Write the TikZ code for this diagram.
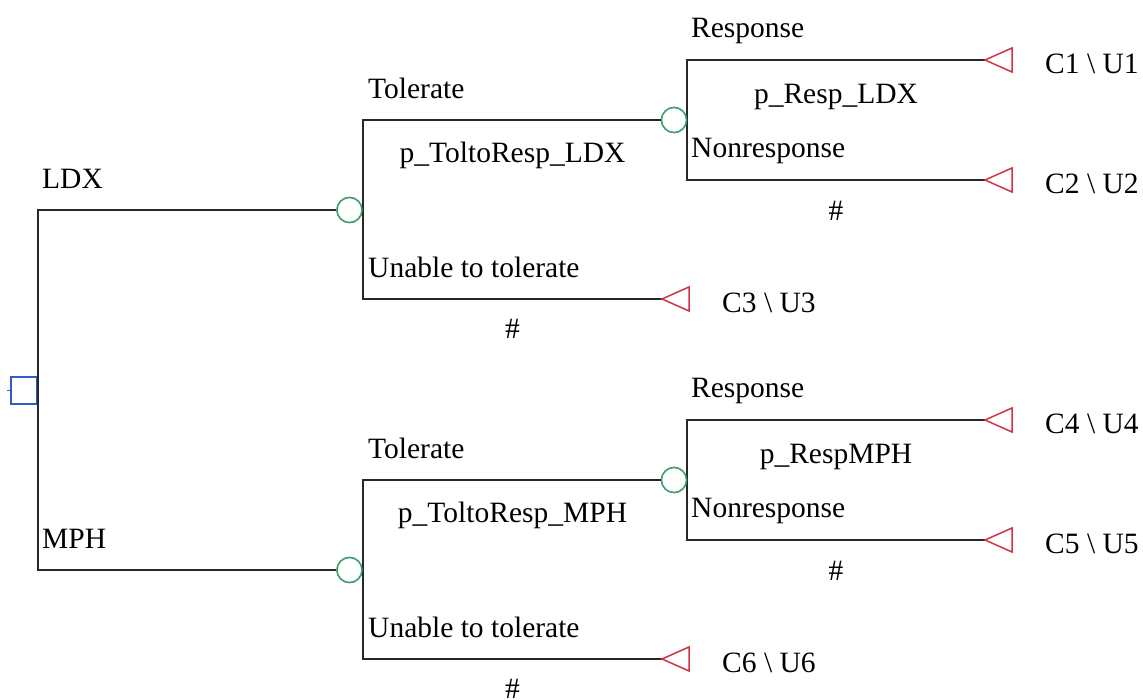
\documentclass[tikz,border=0pt]{standalone}
\usepackage{fontspec}
\setmainfont{Liberation Serif}
\definecolor{chancegreen}{RGB}{60,160,110}
\definecolor{termred}{RGB}{210,50,70}
\definecolor{decblue}{RGB}{50,90,200}
\definecolor{linegray}{RGB}{40,40,40}
\begin{document}
\begin{tikzpicture}[x=1pt,y=-1pt,
  lbl/.style={anchor=base west,inner sep=0pt,font=\fontsize{29.5}{34}\selectfont},
  clbl/.style={anchor=base,inner sep=0pt,font=\fontsize{29.5}{34}\selectfont},
  branch/.style={draw=linegray,line width=1.6pt},
  chance/.style={circle,draw=chancegreen,line width=1.5pt,minimum size=25pt,inner sep=0pt,fill=white},
  decision/.style={rectangle,draw=decblue,line width=1.5pt,minimum width=26pt,minimum height=27pt,inner sep=0pt},
  term/.style={draw=termred,line width=1.5pt,line join=miter}]
\useasboundingbox (0,0) rectangle (1143,699);

% decision node
\node[decision] (d) at (24,390.5) {};
\draw[decblue,line width=1.5pt] (d.west) -- ++(-3,0);

\foreach \o/\arm/\pr/\prr/\ca/\cb/\cc/\nm in
  {0/LDX/p\_ToltoResp\_LDX/p\_Resp\_LDX/1/2/3/L,
   360/MPH/p\_ToltoResp\_MPH/p\_RespMPH/4/5/6/M}{
  \node[chance] (c\nm) at (349.5,210+\o) {};
  \node[chance] (c\nm T) at (674,120+\o) {};
  \coordinate (t\ca) at (985,60+\o);
  \coordinate (t\cb) at (985,180+\o);
  \coordinate (t\cc) at (662,299+\o);
  \draw[branch] (d.east) |- (c\nm.west);
  \draw[branch] (c\nm.east) |- (c\nm T.west);
  \draw[branch] (c\nm.east) |- (t\cc);
  \draw[branch] (c\nm T.east) |- (t\ca);
  \draw[branch] (c\nm T.east) |- (t\cb);
  \node[chance] at (c\nm) {};
  \node[chance] at (c\nm T) {};
  \foreach \t in {\ca,\cb,\cc}{
    \draw[term] (t\t) -- ++(27,-12) -- ++(0,24) -- cycle;
  }
  \node[lbl] (arm\nm) at (42,188+\o) {\arm};
  \node[lbl] (tol\nm) at (368,98+\o) {Tolerate};
  \node[clbl] (ptol\nm) at (512.5,162+\o) {\pr};
  \node[lbl] (unt\nm) at (368,277+\o) {Unable to tolerate};
  \node[clbl] (h1\nm) at (512.5,338+\o) {\#};
  \node[lbl] (res\nm) at (691,37+\o) {Response};
  \node[clbl] (pres\nm) at (836,103+\o) {\prr};
  \node[lbl] (nres\nm) at (691,157+\o) {Nonresponse};
  \node[clbl] (h2\nm) at (836,220+\o) {\#};
  \node[lbl] (lc\ca) at (1045,73+\o) {C\ca{} \textbackslash{} U\ca};
  \node[lbl] (lc\cb) at (1045,193+\o) {C\cb{} \textbackslash{} U\cb};
  \node[lbl] (lc\cc) at (722,312+\o) {C\cc{} \textbackslash{} U\cc};
}
\end{tikzpicture}
\end{document}
